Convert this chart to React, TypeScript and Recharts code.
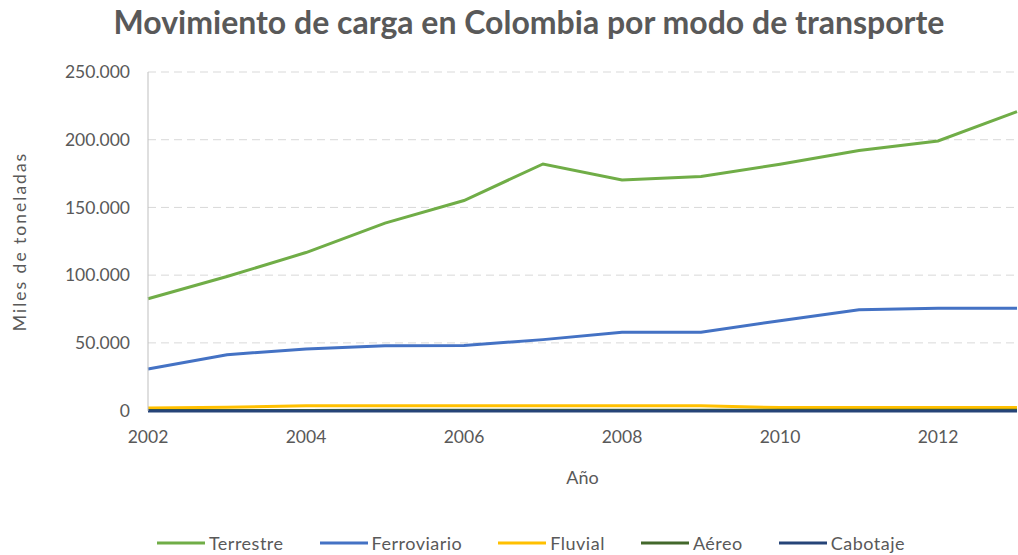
import React from 'react';
import { LineChart, Line, XAxis, YAxis, CartesianGrid, Legend } from 'recharts';

const years = ['2002','2003','2004','2005','2006','2007','2008','2009','2010','2011','2012','2013'];
const terrestre = [82600, 99000, 116700, 138400, 155100, 182100, 170300, 172800, 181900, 192000, 199100, 220700];
const ferroviario = [30700, 41300, 45500, 47900, 48000, 52400, 57800, 57800, 66400, 74500, 75500, 75500];
const fluvial = [2000, 2500, 3600, 3600, 3600, 3600, 3600, 3600, 2200, 2200, 2200, 2200];
const aereo = [150, 150, 160, 170, 170, 180, 180, 170, 180, 190, 200, 210];
const cabotaje = [-300, -300, -300, -300, -300, -300, -300, -300, -300, -300, -300, -300];
const yTicks = [0, 50000, 100000, 150000, 200000, 250000];
const xTicks = ['2002','2004','2006','2008','2010','2012'];

const series = [
  { key: 'Terrestre', values: terrestre, color: '#70ad47' },
  { key: 'Ferroviario', values: ferroviario, color: '#4472c4' },
  { key: 'Fluvial', values: fluvial, color: '#ffc000' },
  { key: 'Aéreo', values: aereo, color: '#43682b' },
  { key: 'Cabotaje', values: cabotaje, color: '#264478' },
];

const data = years.map((y, i) => {
  const row: Record<string, any> = { year: y };
  series.forEach(s => { row[s.key] = s.values[i]; });
  return row;
});

const FONT = 'Lato, "Open Sans", sans-serif';
const GREY = '#595959';

const fmt = (v: number) => v === 0 ? '0' : v.toLocaleString('de-DE');

const LegendContent = () => {
  return (
    <div style={{ display: 'flex', justifyContent: 'center', alignItems: 'center', fontFamily: FONT, fontSize: 18, letterSpacing: 0.5, color: GREY, height: 24, lineHeight: '24px', paddingLeft: 45 }}>
      {series.map((s) => (
        <div key={s.key} style={{ display: 'flex', alignItems: 'center', margin: '0 18px' }}>
          <svg width={48} height={6} style={{ marginRight: 4 }}>
            <line x1={0} y1={3} x2={48} y2={3} stroke={s.color} strokeWidth={3} />
          </svg>
          <span>{s.key}</span>
        </div>
      ))}
    </div>
  );
};

export default function App() {
  return (
    <div style={{ position: 'absolute', left: 0, top: 0, width: 1018, height: 555, background: '#fff' }}>
      <div style={{ position: 'absolute', left: 0, top: 2, width: 1018, paddingLeft: 40, boxSizing: 'border-box', textAlign: 'center', fontFamily: FONT, fontWeight: 700, fontSize: 32, color: GREY }}>
        Movimiento de carga en Colombia por modo de transporte
      </div>
      <LineChart width={1018} height={555} data={data} margin={{ top: 72, right: 1, bottom: 0, left: 0 }}>
        <CartesianGrid vertical={false} stroke="#d9d9d9" strokeDasharray="8 5" />
        <XAxis dataKey="year" ticks={xTicks} tickLine={false} axisLine={false} height={120}
          tick={{ fill: GREY, fontSize: 17.5, fontFamily: FONT }} tickMargin={14}
          label={{ value: 'Año', position: 'insideTop', offset: 60, fill: GREY, fontSize: 18, fontFamily: FONT }} />
        <YAxis width={148} domain={[0, 250000]} ticks={yTicks} tickFormatter={fmt} tickLine={false}
          axisLine={{ stroke: '#bfbfbf' }} tick={{ fill: GREY, fontSize: 17.5, fontFamily: FONT }} tickMargin={12}
          label={{ value: 'Miles de toneladas', angle: -90, position: 'insideLeft', offset: 20, fill: GREY, fontSize: 17.5, fontFamily: FONT, letterSpacing: 2, style: { textAnchor: 'middle' } }} />
        <Legend verticalAlign="bottom" height={24} content={<LegendContent />} />
        {series.map(s => (
          <Line key={s.key} dataKey={s.key} stroke={s.color} strokeWidth={3} dot={false} isAnimationActive={false} type="linear" />
        ))}
      </LineChart>
    </div>
  );
}
